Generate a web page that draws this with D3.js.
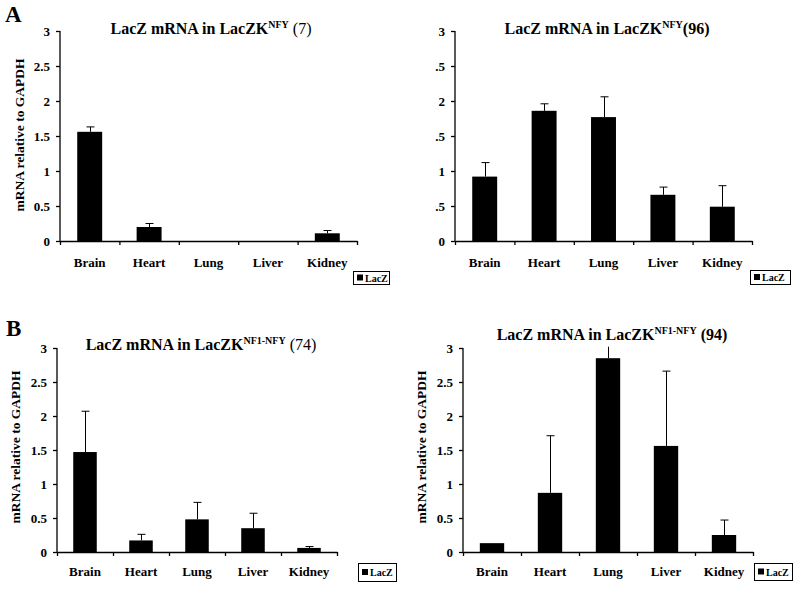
<!DOCTYPE html>
<html lang="en">
<head>
    <meta charset="UTF-8">
    <title>LacZ mRNA relative to GAPDH</title>
    <style>
        html, body {
            margin: 0;
            padding: 0;
            background-color: #ffffff;
        }
        svg text {
            font-family: 'Liberation Serif', 'Times New Roman', serif;
            fill: #000;
        }
    </style>
</head>
<body>
    <svg id="chart" width="800" height="589"></svg>
    <script src="https://d3js.org/d3.v7.min.js"></script>
    <script>
        // DATA
        const organs = ["Brain", "Heart", "Lung", "Liver", "Kidney"];
        const yTicks = [0, 0.5, 1, 1.5, 2, 2.5, 3];

        const nfy7 = [1.56, 0.20, 0, 0, 0.11];
        const nfy7Sd = [0.07, 0.05, 0, 0, 0.04];

        const nfy96 = [0.92, 1.86, 1.77, 0.66, 0.49];
        const nfy96Sd = [0.20, 0.10, 0.29, 0.11, 0.30];

        const nf1nfy74 = [1.47, 0.17, 0.48, 0.35, 0.06];
        const nf1nfy74Sd = [0.60, 0.09, 0.25, 0.22, 0.02];

        const nf1nfy94 = [0.13, 0.87, 2.85, 1.56, 0.25];
        const nf1nfy94Sd = [0, 0.84, 0.25, 1.10, 0.22];

        const yTitle = "mRNA relative to GAPDH";
        const legendLabel = "LacZ";

        const svg = d3.select("#chart");

        const panels = [
            {values: nfy7, sd: nfy7Sd, left: 60, right: 357, top: 31, bottom: 241,
             title: ["LacZ mRNA in LacZK", "NFY", " (7)", false], tx: 211, ty: 34,
             ytx: 24, yty: 135, legend: [353, 271, 36, 13], letter: ["A", 5, 22], labelGap: 16.5},
            {values: nfy96, sd: nfy96Sd, left: 455, right: 752, top: 31, bottom: 241,
             title: ["LacZ mRNA in LacZK", "NFY", "(96)", true], tx: 607, ty: 34,
             ytx: null, legend: [750, 270, 40, 14], clipX: 435, labelGap: 16.5},
            {values: nf1nfy74, sd: nf1nfy74Sd, left: 57, right: 337, top: 348, bottom: 552,
             title: ["LacZ mRNA in LacZK", "NF1-NFY", " (74)", false], tx: 201, ty: 350,
             ytx: 20, yty: 447, legend: [358, 563, 38, 18], letter: ["B", 6, 336], labelGap: 15},
            {values: nf1nfy94, sd: nf1nfy94Sd, left: 463, right: 753, top: 348, bottom: 552,
             title: ["LacZ mRNA in LacZK", "NF1-NFY", " (94)", true], tx: 612, ty: 340,
             ytx: 426, yty: 447, legend: [754, 563, 38, 17], labelGap: 15}
        ];

        panels.forEach((p, idx) => {
            const g = svg.append("g");

            // SCALES
            const x = d3.scaleBand().domain(organs).range([p.left, p.right]).padding(0);
            const xEdge = d3.scaleLinear().domain([0, organs.length]).range([p.left, p.right]);
            const y = d3.scaleLinear().domain([0, 3]).range([p.bottom, p.top]);
            const barW = x.bandwidth() * 0.42;

            // PLOT AREA CLIP (error bars are cut at the top)
            g.append("clipPath").attr("id", "plot" + idx)
                .append("rect")
                .attr("x", p.left).attr("y", y(3.02))
                .attr("width", p.right - p.left).attr("height", p.bottom - y(3.02) + 1);

            // BARS
            const bars = g.append("g").attr("clip-path", `url(#plot${idx})`);
            bars.selectAll("rect")
                .data(organs).enter()
                .append("rect")
                .attr("x", (d) => x(d) + (x.bandwidth() - barW) / 2)
                .attr("y", (d, i) => y(p.values[i]))
                .attr("width", barW)
                .attr("height", (d, i) => y(0) - y(p.values[i]))
                .style("fill", "#000");

            // ERROR BARS (upper half only)
            organs.forEach((d, i) => {
                if (p.sd[i] <= 0) return;
                const cx = Math.round(x(d) + x.bandwidth() / 2) + 0.5;
                const yTop = y(p.values[i] + p.sd[i]);
                bars.append("line")
                    .attr("x1", cx).attr("x2", cx)
                    .attr("y1", y(p.values[i])).attr("y2", yTop)
                    .style("stroke", "#000").style("stroke-width", 1);
                bars.append("line")
                    .attr("x1", cx - 4).attr("x2", cx + 4)
                    .attr("y1", yTop).attr("y2", yTop)
                    .style("stroke", "#000").style("stroke-width", 1);
            });

            // Y AXIS
            const yAxis = g.append("g")
                .attr("transform", `translate(${p.left},0)`)
                .call(d3.axisLeft(y).tickValues(yTicks).tickSize(4).tickSizeOuter(0).tickPadding(6)
                    .tickFormat((d) => d));
            yAxis.selectAll("text")
                .style("font-size", "13px").style("font-weight", "bold")
                .style("font-family", "'Liberation Serif', serif");
            yAxis.selectAll("line, path").style("stroke", "#000").style("stroke-width", 1.3);
            yAxis.select(".domain").attr("d", `M0,${p.top}V${p.bottom}`);
            if (p.clipX) {
                // the left edge of these labels is cut off in the figure
                g.append("clipPath").attr("id", "ylab" + idx)
                    .append("rect")
                    .attr("x", p.clipX - p.left).attr("y", p.top - 20)
                    .attr("width", 100).attr("height", p.bottom - p.top + 40);
                yAxis.attr("clip-path", `url(#ylab${idx})`);
            }

            // X AXIS: boundary ticks
            const xTicks = g.append("g")
                .attr("transform", `translate(0,${p.bottom})`)
                .call(d3.axisBottom(xEdge).tickValues(d3.range(organs.length + 1)).tickSize(4)
                    .tickSizeOuter(0).tickFormat(""));
            xTicks.selectAll("line, path").style("stroke", "#000").style("stroke-width", 1.3);

            // X AXIS: category labels
            const xLabels = g.append("g")
                .attr("transform", `translate(0,${p.bottom})`)
                .call(d3.axisBottom(x).tickSize(0).tickPadding(p.labelGap));
            xLabels.select(".domain").remove();
            xLabels.selectAll("text")
                .style("font-size", "13px").style("font-weight", "bold")
                .style("font-family", "'Liberation Serif', serif");

            // TITLE
            const title = g.append("text")
                .attr("x", p.tx).attr("y", p.ty)
                .attr("text-anchor", "middle")
                .style("font-size", "16px").style("font-weight", "bold");
            title.append("tspan").text(p.title[0]);
            title.append("tspan").text(p.title[1])
                .attr("dy", -6).style("font-size", "10px");
            title.append("tspan").text(p.title[2])
                .attr("dy", 6)
                .style("font-weight", p.title[3] ? "bold" : "normal");

            // Y AXIS TITLE
            if (p.ytx !== null) {
                g.append("text")
                    .attr("transform", `translate(${p.ytx},${p.yty}) rotate(-90)`)
                    .attr("text-anchor", "middle")
                    .style("font-size", "13.5px").style("font-weight", "bold")
                    .text(yTitle);
            }

            // LEGEND
            const [lx, ly, lw, lh] = p.legend;
            const legend = g.append("g");
            legend.append("rect")
                .attr("x", lx + 0.5).attr("y", ly + 0.5)
                .attr("width", lw).attr("height", lh)
                .style("fill", "#fff").style("stroke", "#000").style("stroke-width", 1);
            legend.append("rect")
                .attr("x", lx + 4).attr("y", ly + lh / 2 - 3)
                .attr("width", 6).attr("height", 6)
                .style("fill", "#000");
            legend.append("text")
                .attr("x", lx + 12).attr("y", ly + lh / 2 + 4)
                .style("font-size", "10px").style("font-weight", "bold")
                .text(legendLabel);

            // PANEL LETTER
            if (p.letter) {
                g.append("text")
                    .attr("x", p.letter[1]).attr("y", p.letter[2])
                    .style("font-size", "23px").style("font-weight", "bold")
                    .text(p.letter[0]);
            }
        });
    </script>
</body>
</html>
